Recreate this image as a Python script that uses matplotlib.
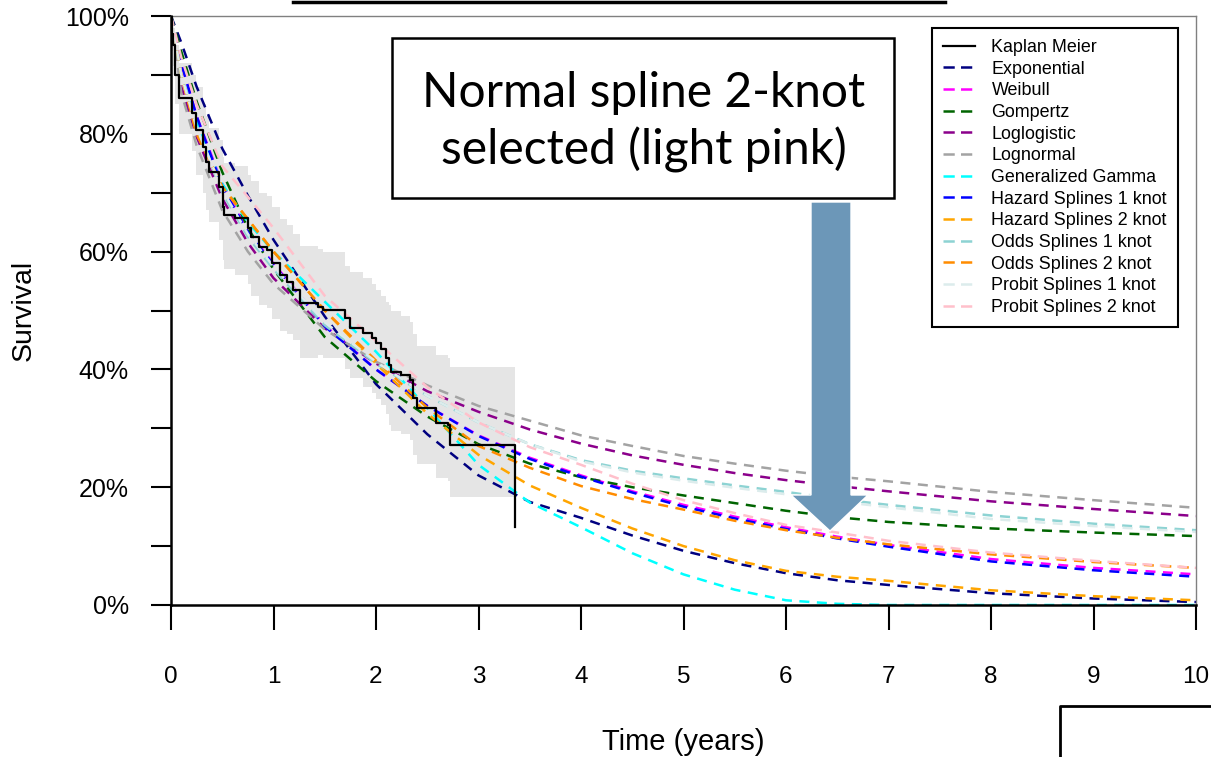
import matplotlib
matplotlib.use("Agg")
import matplotlib.pyplot as plt
from matplotlib.lines import Line2D
from matplotlib.patches import Polygon, Rectangle

plt.rcParams['font.family'] = ['Liberation Sans', 'DejaVu Sans']

W, H = 1211, 757

# survival (%)
t = [0, 0.1, 0.25, 0.5, 0.75, 1, 1.5, 2, 2.5, 3, 3.5, 4, 4.5, 5, 5.5, 6, 6.5, 7, 8, 9, 10]
exponential = [100, 95.5, 88, 77.5, 69.5, 62, 49, 37.5, 29, 22, 17.5, 14.8, 11.8, 9.2, 7.1, 5.4, 4.2, 3.4, 2.0, 1.1, 0.5]
weibull = [100, 92, 83, 71.5, 63.5, 58, 47.5, 40, 33.8, 28.8, 25, 22, 19.3, 17, 15, 13.2, 11.6, 10.2, 7.8, 6.3, 5.2]
gompertz = [100, 94, 85.5, 73.5, 64, 57, 45.5, 38, 32, 27.3, 24, 21.7, 20, 18.6, 17.3, 16, 14.9, 14.1, 13, 12.3, 11.7]
loglogistic = [100, 88, 79.5, 69, 61.5, 55.5, 47, 41, 36.3, 32.8, 29.8, 27.4, 25.4, 23.8, 22.4, 21.2, 20.2, 19.3, 17.6, 16.3, 15.1]
lognormal = [100, 87, 78, 67, 60, 54.5, 46.8, 41.3, 37.3, 33.8, 31.3, 28.8, 27, 25.3, 24, 22.8, 21.8, 21, 19.2, 17.8, 16.5]
gengamma = [100, 90, 82, 71.5, 65, 60, 51.5, 43, 33.5, 23.8, 17.4, 13.2, 8.8, 5.2, 2.6, 0.8, 0.2, 0, 0, 0, 0]
hazard1 = [100, 92, 83, 71, 63.3, 57.8, 47.3, 40, 33.8, 28.7, 24.8, 21.8, 19.1, 16.7, 14.7, 12.9, 11.3, 9.9, 7.4, 5.9, 4.8]
hazard2 = [100, 90, 80, 71, 65.5, 60, 50, 41, 32.5, 25.5, 20.3, 16.5, 13, 10, 7.6, 5.8, 4.8, 4.1, 2.5, 1.5, 0.8]
odds1 = [100, 90, 81, 70, 62.5, 57, 47.5, 41, 35.5, 31, 27.3, 24.6, 22.8, 21.5, 20.3, 19.2, 18, 17, 15.2, 13.8, 12.7]
odds2 = [100, 90, 80, 71, 65.5, 60, 50, 41.5, 33.5, 27, 23.3, 20.2, 18, 16.2, 14.3, 12.7, 11.4, 10.3, 8.6, 7.3, 6.3]
probit1 = [100, 90, 81, 70.5, 63, 57.5, 48, 41.3, 35.5, 31, 27.3, 24.4, 22.5, 21.1, 19.9, 18.8, 17.6, 16.6, 14.6, 13.4, 12.4]
probit2 = [100, 93, 85, 74.5, 69.3, 64, 52.5, 44.8, 37, 31, 26.8, 23.8, 20.6, 17.8, 15.6, 13.6, 12.3, 10.9, 8.9, 7.5, 6.3]

km_t = [0, 0.01, 0.02, 0.04, 0.08, 0.2, 0.24, 0.31, 0.34, 0.37, 0.47, 0.51, 0.52, 0.62, 0.75, 0.78,
        0.86, 0.94, 0.99, 1.06, 1.13, 1.19, 1.26, 1.43, 1.48, 1.70, 1.75, 1.87, 1.96, 2.0, 2.05, 2.1,
        2.13, 2.15, 2.24, 2.33, 2.36, 2.40, 2.59, 2.70, 2.72, 3.36]
km_s = [100, 97, 95, 90, 86, 83.5, 80.6, 77.8, 75.2, 73.5, 71, 67.6, 66.2, 65.7, 64, 62.5,
        60.8, 60.3, 58, 56, 54.8, 53.5, 51.3, 50.6, 50.1, 48.7, 47, 46.2, 45.3, 44.5, 43.5, 42,
        40.7, 39.6, 39, 38.2, 35.1, 33.4, 30.9, 30.6, 27.2, 13.2]
km_upper = [100, 99, 98, 95, 92, 90, 88, 85, 83, 81, 79, 76, 75, 74.5, 73, 72,
            70, 69.5, 67.5, 65.5, 64.5, 63, 61, 60.5, 60, 57.5, 56.5, 55.5, 54.5, 53.5, 52.5, 51.5,
            51, 50, 49, 48, 46, 44, 42.5, 42, 40.4, 40.4]
km_lower = [100, 94, 91.5, 85, 80, 77, 73, 70, 67, 65, 62, 58.5, 57, 56, 54.5, 52.5,
            51, 50.5, 48.5, 46.5, 46, 45, 42, 42.5, 42, 40, 38.5, 37, 36, 35, 34, 32.5,
            30.5, 29.5, 29, 28, 25.5, 24, 21.5, 21, 18.3, 18.3]

models = [
    ("Exponential", exponential, "navy"),
    ("Weibull", weibull, "#ff00ff"),
    ("Gompertz", gompertz, "darkgreen"),
    ("Loglogistic", loglogistic, "darkmagenta"),
    ("Lognormal", lognormal, "#a3a3a3"),
    ("Generalized Gamma", gengamma, "cyan"),
    ("Hazard Splines 1 knot", hazard1, "blue"),
    ("Hazard Splines 2 knot", hazard2, "orange"),
    ("Odds Splines 1 knot", odds1, "#8dd3d3"),
    ("Odds Splines 2 knot", odds2, "darkorange"),
    ("Probit Splines 1 knot", probit1, "#dcecec"),
    ("Probit Splines 2 knot", probit2, "pink"),
]


def fx(x, y):
    return (x / W, 1 - y / H)


fig = plt.figure(figsize=(W / 100, H / 100), dpi=100)
ax = fig.add_axes([171 / W, 1 - 605 / H, (1196 - 171) / W, (605 - 16) / H])

ax.fill_between(km_t, km_lower, km_upper, step='post', color='#e5e5e5', lw=0, zorder=1)
for name, vals, col in models:
    ax.plot(t, vals, color=col, lw=1.8, dashes=(4, 3), zorder=2)
ax.step(km_t, km_s, where='post', color='black', lw=1.6, zorder=3)

ax.set_xlim(0, 10)
ax.set_ylim(0, 100)
ax.set_xticks(range(0, 11))
ax.set_yticks(range(0, 101, 10))
ax.set_yticklabels([f"{v}%" if v % 20 == 0 else "" for v in range(0, 101, 10)])
ax.tick_params(axis='x', length=18, width=1.5, pad=26, labelsize=17.5)
ax.tick_params(axis='y', length=14.5, width=1.5, pad=16, labelsize=18)
for side in ['top', 'right']:
    ax.spines[side].set_color('#808080')
    ax.spines[side].set_linewidth(1)
for side in ['left', 'bottom']:
    ax.spines[side].set_linewidth(1.8)
ax.set_xlabel("Time (years)", fontsize=21, labelpad=29)
ax.set_ylabel("Survival", fontsize=20.5, labelpad=20)

handles = [Line2D([], [], color='black', lw=1.6)]
handles += [Line2D([], [], color=c, lw=1.8, dashes=(4.5, 2.5)) for _, _, c in models]
labels = ["Kaplan Meier"] + [m[0] for m in models]
leg = ax.legend(handles, labels, loc='upper left', bbox_to_anchor=fx(932, 28),
                bbox_transform=fig.transFigure, fontsize=12.9, frameon=True, fancybox=False,
                edgecolor='black', framealpha=1, handlelength=1.8, handletextpad=0.9,
                labelspacing=0.26, borderpad=0.62, borderaxespad=0)
leg.get_frame().set_linewidth(1.5)

# annotation box and arrow
fig.add_artist(Rectangle(fx(392, 198), (894 - 392) / W, (198 - 38) / H, transform=fig.transFigure,
                         facecolor='white', edgecolor='black', lw=1.8, zorder=5))
fig.text(*fx(644, 122), "Normal spline 2-knot\nselected (light pink)", ha='center', va='center',
         fontsize=34.5, family='Lato', linespacing=1.32, zorder=6)
arrow_pts = [fx(811, 202), fx(851, 202), fx(851, 495), fx(868, 495), fx(830, 531), fx(791, 495), fx(811, 495)]
fig.add_artist(Polygon(arrow_pts, closed=True, transform=fig.transFigure, facecolor='#6c97b8',
                       edgecolor='white', lw=1, zorder=7))

# cropped frames at the edges of the screenshot
fig.add_artist(Line2D([293 / W, 945 / W], [1 - 1.5 / H, 1 - 1.5 / H], transform=fig.transFigure,
                      color='black', lw=2.5))
fig.add_artist(Line2D([1060 / W, 1060 / W, 1 + 0.01], [0 - 0.01, 1 - 706 / H, 1 - 706 / H],
                      transform=fig.transFigure, color='black', lw=2))

fig.savefig("out.png", dpi=100)
